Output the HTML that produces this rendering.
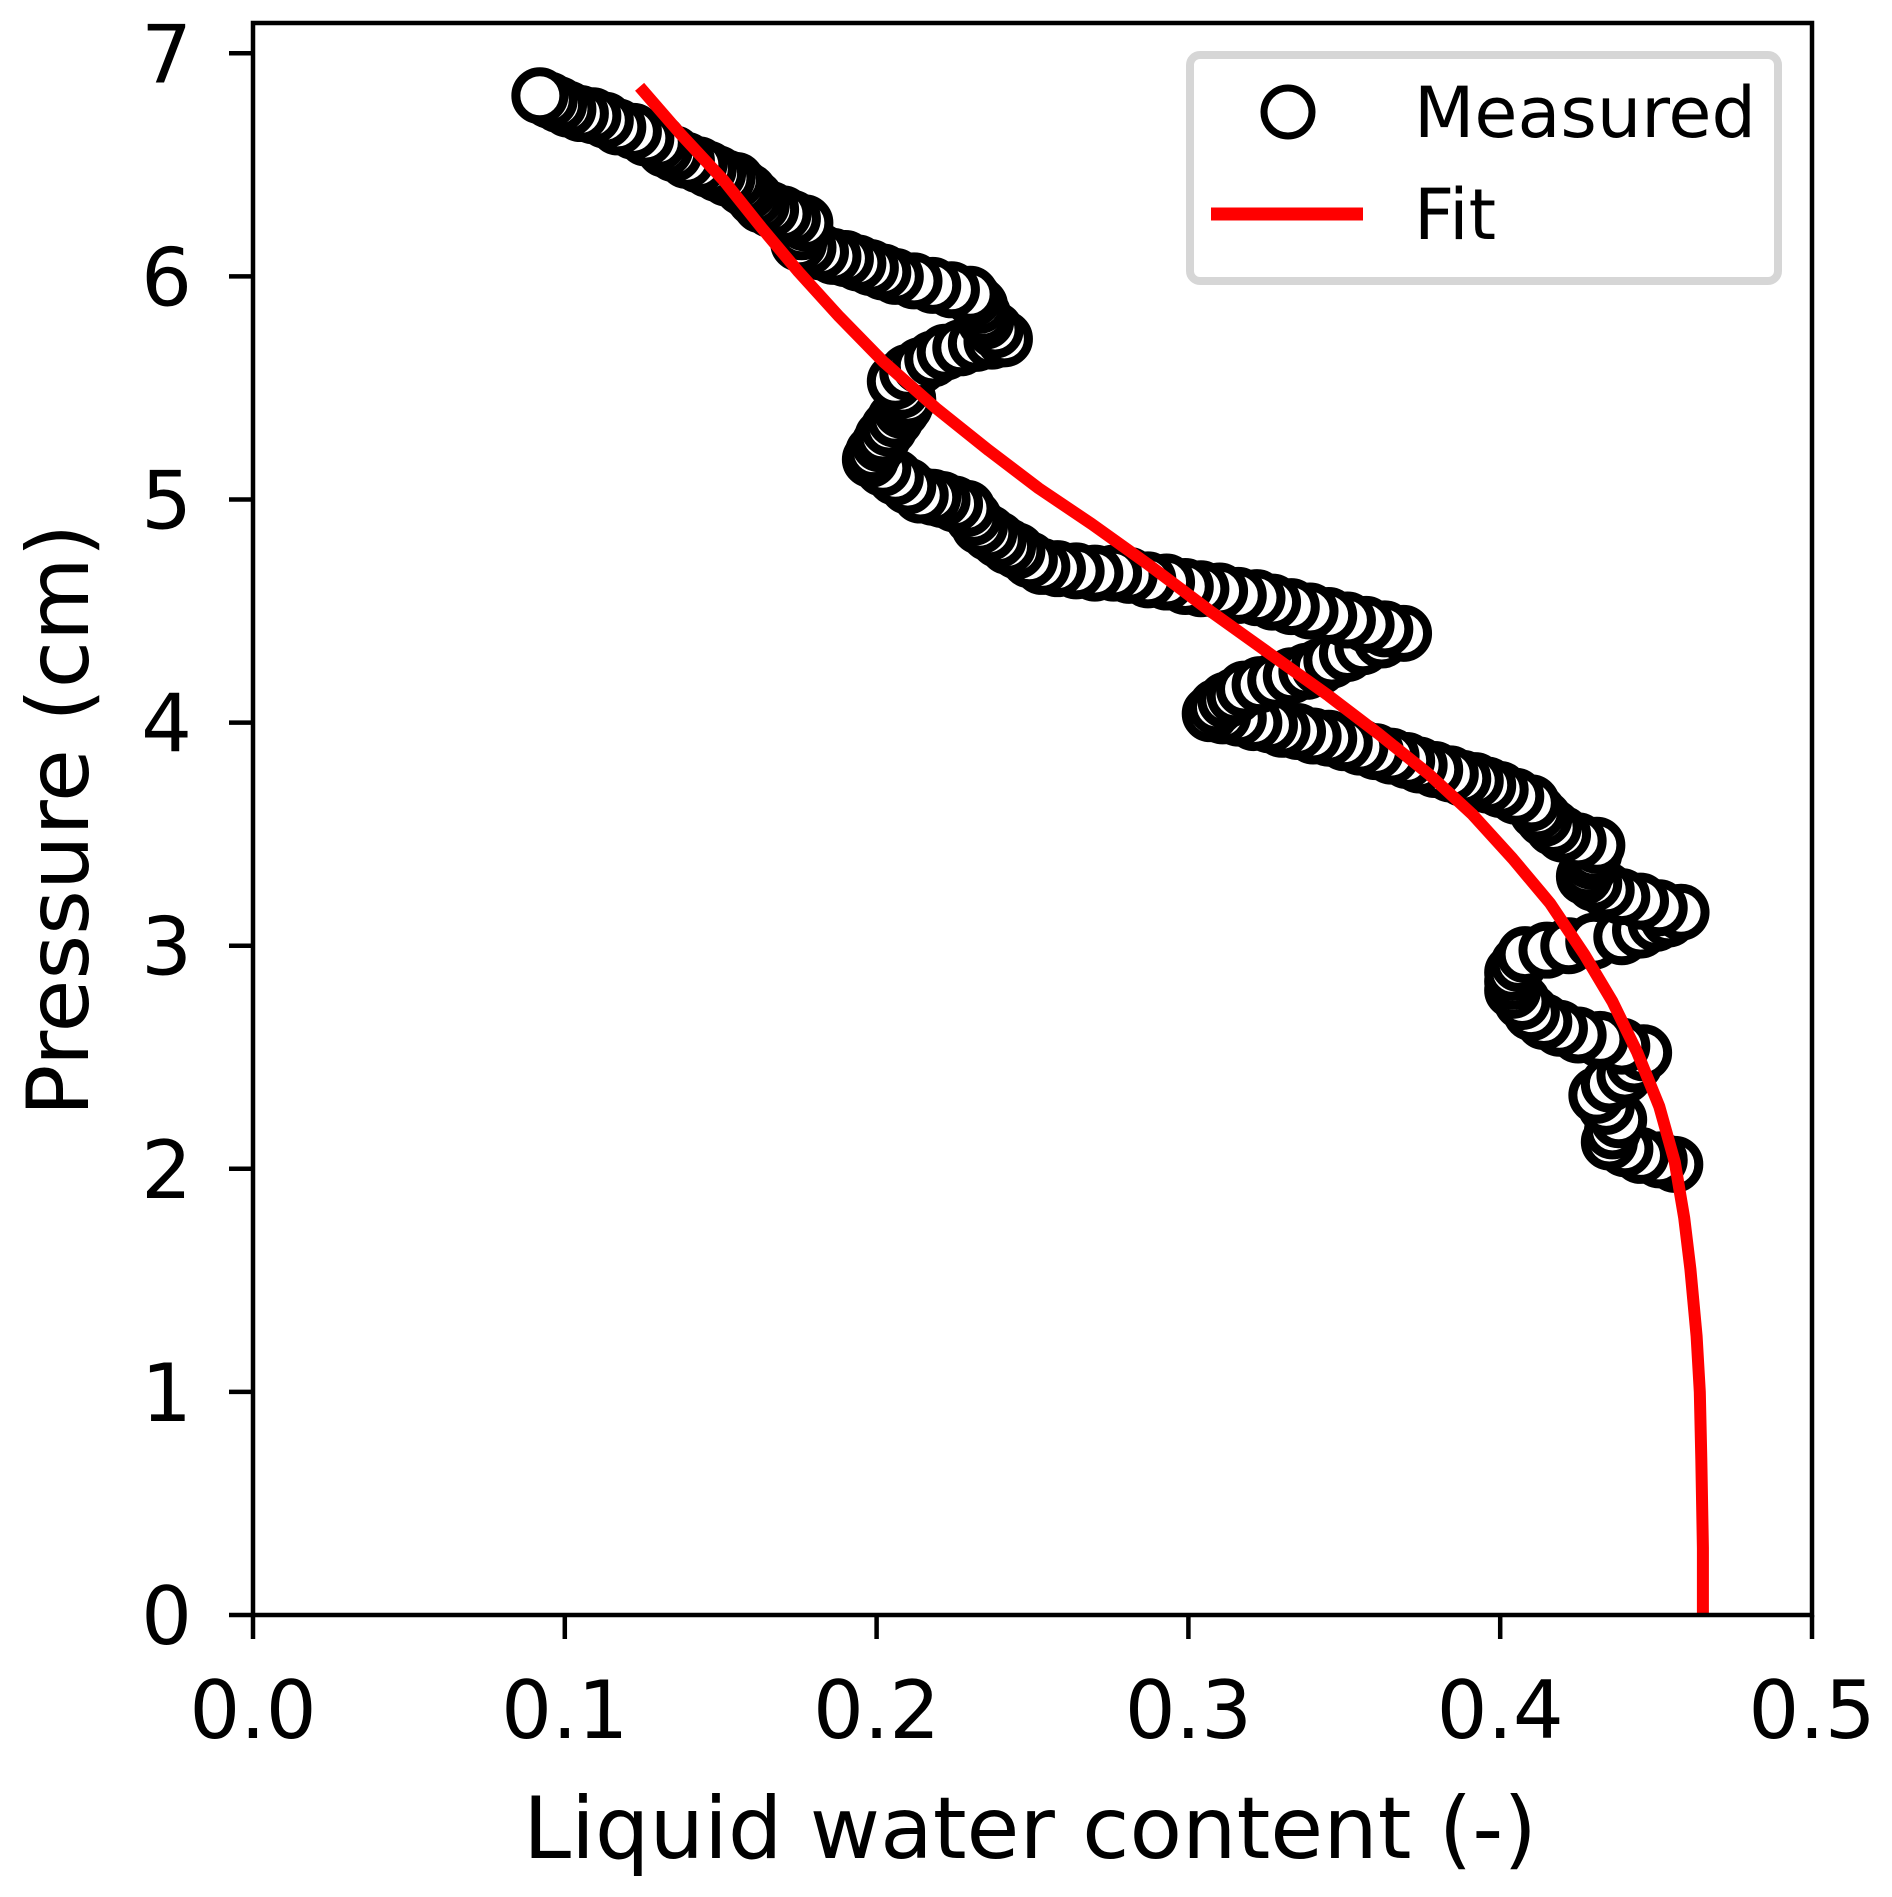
<!DOCTYPE html>
<html><head><meta charset="utf-8">
<style>
html,body{margin:0;padding:0;background:#fff;}
svg{display:block;font-family:"DejaVu Sans","Liberation Sans",sans-serif;}
</style></head>
<body>
<svg id="chart" width="1892" height="1897" viewBox="0 0 1892 1897" xmlns="http://www.w3.org/2000/svg">
<rect width="1892" height="1897" fill="#fff"/>
<g id="marks"></g>
<g id="axes"></g>
<g id="legend">
  <rect x="1190" y="55" width="588" height="226" rx="10" fill="#fff" stroke="#d6d6d6" stroke-width="8"/>
  <circle cx="1288" cy="112" r="24" fill="#fff" stroke="#000" stroke-width="7"/>
  <text x="1414" y="137" font-size="70">Measured</text>
  <line x1="1211" y1="214" x2="1363" y2="214" stroke="#f00" stroke-width="13"/>
  <text x="1414" y="239" font-size="70">Fit</text>
</g>
<text x="1030" y="1858" font-size="86" text-anchor="middle">Liquid water content (-)</text>
<text transform="translate(88,820) rotate(-90)" font-size="86" text-anchor="middle">Pressure (cm)</text>
</svg>
<script>
const measX = [.456,.451,.445,.440,.435,.436,.438,.434,.431,.435,.440,.443,.446,.439,.432,.425,.419,.414,.410,.407,.404,.404,.404,.406,.408,.415,.422,.430,.439,.445,.450,.454,.458,.451,.445,.439,.434,.430,.427,.428,.429,.430,.431,.425,.420,.417,.414,.412,.410,.405,.400,.396,.392,.388,.384,.379,.374,.370,.365,.360,.355,.350,.345,.340,.335,.330,.326,.321,.316,.311,.307,.309,.312,.315,.318,.323,.328,.333,.338,.342,.346,.351,.356,.362,.369,.363,.357,.351,.345,.339,.333,.327,.322,.316,.310,.304,.299,.293,.287,.281,.276,.270,.264,.258,.253,.249,.245,.242,.239,.236,.233,.231,.229,.225,.221,.218,.214,.210,.206,.202,.198,.199,.201,.202,.204,.206,.208,.209,.210,.208,.206,.210,.214,.218,.222,.227,.232,.237,.241,.238,.235,.234,.233,.231,.230,.224,.218,.212,.206,.202,.198,.194,.190,.186,.182,.178,.175,.176,.177,.173,.170,.166,.163,.161,.159,.157,.155,.152,.149,.146,.143,.139,.135,.132,.130,.126,.122,.117,.113,.109,.105,.101,.098,.095,.092];
const measY = [2.02,2.04,2.06,2.09,2.12,2.17,2.22,2.28,2.33,2.38,2.42,2.47,2.52,2.55,2.58,2.60,2.63,2.66,2.70,2.75,2.80,2.84,2.88,2.92,2.96,2.98,3.00,3.02,3.04,3.07,3.10,3.12,3.15,3.17,3.20,3.22,3.25,3.28,3.31,3.34,3.38,3.41,3.45,3.47,3.50,3.53,3.57,3.60,3.64,3.67,3.70,3.72,3.74,3.75,3.77,3.79,3.81,3.83,3.85,3.87,3.89,3.91,3.93,3.94,3.96,3.97,3.99,4.00,4.02,4.03,4.04,4.07,4.10,4.12,4.15,4.17,4.19,4.21,4.23,4.25,4.28,4.31,4.34,4.37,4.40,4.42,4.44,4.46,4.48,4.50,4.52,4.54,4.56,4.57,4.59,4.60,4.61,4.63,4.64,4.66,4.67,4.67,4.68,4.69,4.70,4.73,4.77,4.79,4.82,4.85,4.88,4.92,4.96,4.98,5.00,5.01,5.02,5.06,5.10,5.14,5.18,5.21,5.25,5.28,5.32,5.36,5.40,5.42,5.45,5.49,5.53,5.57,5.60,5.63,5.66,5.68,5.70,5.71,5.72,5.76,5.80,5.83,5.87,5.90,5.92,5.94,5.96,5.98,6.00,6.02,6.04,6.06,6.08,6.09,6.11,6.13,6.15,6.20,6.24,6.26,6.28,6.30,6.32,6.35,6.38,6.40,6.43,6.44,6.46,6.48,6.50,6.52,6.55,6.57,6.60,6.62,6.65,6.67,6.70,6.72,6.73,6.75,6.77,6.79,6.81];
const fitX = [.124,.137,.151,.163,.175,.188,.202,.219,.236,.252,.269,.287,.307,.327,.345,.361,.377,.391,.404,.416,.427,.436,.444,.451,.456,.459,.461,.463,.464,.4645,.465,.465];
const fitY = [6.85,6.64,6.43,6.22,6.02,5.82,5.62,5.41,5.22,5.05,4.89,4.71,4.50,4.30,4.12,3.95,3.77,3.59,3.39,3.19,2.96,2.75,2.52,2.28,2.03,1.78,1.55,1.25,1.0,0.7,0.3,0];
const xTicks = [0,0.1,0.2,0.3,0.4,0.5];
const xTickLabels = ["0.0","0.1","0.2","0.3","0.4","0.5"];
const yTicks = [0,1,2,3,4,5,6,7];
const yTickLabels = ["0","1","2","3","4","5","6","7"];

const L=253,R=1812,T=23,B=1615;
const X=v=>L+v/0.5*(R-L);
const Y=v=>B-v*223.1;
const NS="http://www.w3.org/2000/svg";
function mk(tag,attrs,parent){const e=document.createElementNS(NS,tag);for(const k in attrs)e.setAttribute(k,attrs[k]);parent.appendChild(e);return e;}
const marks=document.getElementById('marks');
const axes=document.getElementById('axes');

for(let i=0;i<measX.length;i++){
  const c=mk('circle',{cx:X(measX[i]),cy:Y(measY[i]),r:24,fill:'#fff',stroke:'#000','stroke-width':9},marks);
  
  
}
let d='';
for(let i=0;i<fitX.length;i++){d+=(i?'L':'M')+X(fitX[i]).toFixed(1)+' '+Y(fitY[i]).toFixed(1);}
const fl=mk('path',{d:d,fill:'none',stroke:'#f00','stroke-width':12,'stroke-linejoin':'round'},marks);



const frame=mk('rect',{x:L,y:T,width:R-L,height:B-T,fill:'none',stroke:'#000','stroke-width':4.5},axes);



xTicks.forEach((v,i)=>{
  const t=mk('line',{x1:X(v),x2:X(v),y1:B,y2:B+24,stroke:'#000','stroke-width':4.5},axes);
  
  
  const lb=mk('text',{x:X(v),y:1738,'font-size':80,'text-anchor':'middle'},axes);
  lb.textContent=xTickLabels[i];
  
  
});
yTicks.forEach((v,i)=>{
  const t=mk('line',{x1:L-24,x2:L,y1:Y(v),y2:Y(v),stroke:'#000','stroke-width':4.5},axes);
  
  
  const lb=mk('text',{x:192,y:Y(v)+29,'font-size':80,'text-anchor':'end'},axes);
  lb.textContent=yTickLabels[i];
  
  
});
</script>
</body></html>
